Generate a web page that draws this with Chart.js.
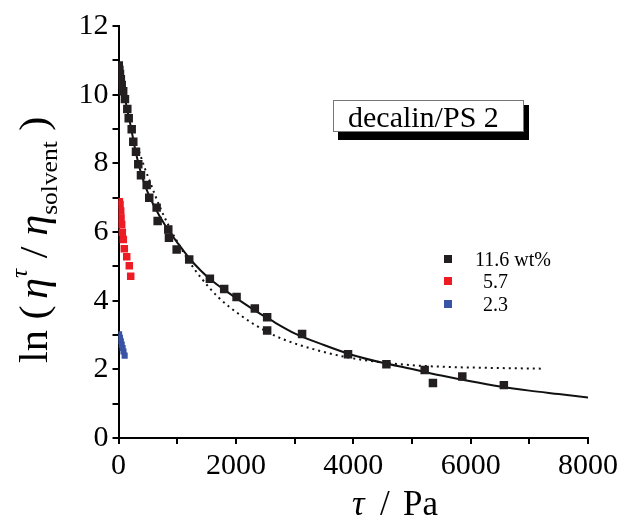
<!DOCTYPE html>
<html>
<head>
<meta charset="utf-8">
<script src="https://cdn.jsdelivr.net/npm/chart.js@4"></script>
<style>
  html, body { margin: 0; padding: 0; background: #fff; }
  #wrap { width: 622px; height: 519px; position: relative; }
</style>
</head>
<body>
<div id="wrap"><canvas id="viscChart" width="622" height="519"></canvas></div>
<script>
// data (tau in Pa, ln(eta/eta_solvent))
const blackX = [5, 15, 25, 40, 55, 80, 110, 150, 174, 225, 252, 298, 337, 383, 480, 524, 650, 667, 848, 860, 991, 1205, 1557, 1801, 2012, 2323, 2533, 2533, 3128, 3911, 4565, 5217, 5358, 5858, 6566];
const blackY = [10.85, 10.72, 10.6, 10.45, 10.28, 10.1, 9.87, 9.58, 9.31, 8.99, 8.63, 8.34, 7.97, 7.65, 7.37, 7.0, 6.71, 6.32, 6.07, 5.83, 5.49, 5.2, 4.64, 4.34, 4.11, 3.77, 3.52, 3.13, 3.03, 2.44, 2.15, 1.98, 1.6, 1.79, 1.54];

const redX = [15, 26, 37, 43, 54, 65, 82, 99, 140, 184, 208];
const redY = [6.88, 6.8, 6.61, 6.41, 6.22, 5.99, 5.78, 5.51, 5.28, 5.02, 4.71];

const blueX = [10, 25, 40, 55, 70, 85, 105];
const blueY = [3.02, 2.92, 2.82, 2.72, 2.62, 2.52, 2.4];

// fitted curves
const solidX = [0, 50, 100, 150, 200, 300, 400, 500, 600, 800, 1000, 1200, 1400, 1600, 1800, 2000, 2300, 2600, 3000, 3500, 4000, 4500, 5000, 5500, 6000, 6500, 7000, 7500, 8000];
const solidY = [10.95, 10.45, 9.98, 9.55, 9.15, 8.28, 7.62, 7.15, 6.78, 6.18, 5.7, 5.25, 4.88, 4.57, 4.32, 4.08, 3.74, 3.43, 3.05, 2.71, 2.41, 2.19, 2.01, 1.82, 1.65, 1.5, 1.38, 1.28, 1.18];

const dotX = [350, 450, 550, 700, 850, 1000, 1200, 1400, 1700, 2100, 2500, 2800, 3400, 3900, 4500, 5000, 5600, 6400, 7200];
const dotY = [8.35, 7.85, 7.4, 6.75, 6.2, 5.72, 5.15, 4.68, 4.1, 3.55, 3.12, 2.88, 2.55, 2.35, 2.2, 2.12, 2.07, 2.04, 2.02];

const legendLabels = ["11.6 wt%", "5.7", "2.3"];
const seriesColors = ["#231f20", "#ed1c24", "#3953a4"];

const serif = "'Liberation Serif', 'Times New Roman', serif";

function pts(xs, ys) {
    return xs.map((x, i) => ({ x: x, y: ys[i] }));
}

// titles, legend and label box drawn by hand
const extrasPlugin = {
    id: 'extras',
    afterDraw(chart) {
        const c = chart.ctx;
        c.save();
        c.fillStyle = '#000';
        c.textBaseline = 'alphabetic';

        // y title: ln ( eta^tau / eta_solvent )
        c.save();
        c.translate(47, 363);
        c.rotate(-Math.PI / 2);
        c.scale(1.06, 1);
        const big = "40px " + serif;
        const bigI = "italic 40px " + serif;
        const small = "24px " + serif;
        const smallI = "italic 24px " + serif;
        let pos = 0;
        const put = (t, f, dy) => {
            c.font = f;
            c.fillText(t, pos, dy || 0);
            pos += c.measureText(t).width;
        };
        put("ln (", big);
        pos += 6;
        put("\u03b7", bigI);
        put("\u03c4", smallI, -20);
        put(" / ", big);
        put("\u03b7", bigI);
        put("solvent", small, 10);
        put(" )", big);
        c.restore();

        // x title
        c.font = "italic 35px " + serif;
        c.fillText("\u03c4", 352, 515);
        c.font = "35px " + serif;
        c.fillText("/", 380, 515);
        c.fillText("Pa", 403, 515);

        // legend
        const ly = [259, 281, 304];
        const lx = [475, 483, 483];
        c.font = "20px " + serif;
        for (let i = 0; i < 3; i++) {
            c.fillStyle = seriesColors[i];
            c.fillRect(444, ly[i] - 4, 8, 8);
            c.fillStyle = '#000';
            c.fillText(legendLabels[i], lx[i], ly[i] + 7);
        }

        // label box with shadow
        c.fillStyle = '#000';
        c.fillRect(338, 105, 191, 35);
        c.fillStyle = '#fff';
        c.fillRect(333, 100, 191, 32);
        c.strokeStyle = '#777';
        c.lineWidth = 1;
        c.strokeRect(333.5, 100.5, 190, 31);
        c.fillStyle = '#000';
        c.font = "30px " + serif;
        c.fillText("decalin/PS 2", 348, 127);

        c.restore();
    }
};

const ctx = document.getElementById('viscChart').getContext('2d');

const chart = new Chart(ctx, {
    type: 'scatter',
    data: {
        datasets: [
            {
                label: legendLabels[0],
                data: pts(blackX, blackY),
                pointStyle: 'rect',
                pointRadius: 6,
                backgroundColor: seriesColors[0],
                borderWidth: 0,
                order: 0
            },
            {
                label: legendLabels[1],
                data: pts(redX, redY),
                pointStyle: 'rect',
                pointRadius: 5.3,
                backgroundColor: seriesColors[1],
                borderWidth: 0,
                order: 0
            },
            {
                label: legendLabels[2],
                data: pts(blueX, blueY),
                pointStyle: 'rect',
                pointRadius: 4.3,
                backgroundColor: seriesColors[2],
                borderWidth: 0,
                order: 0
            },
            {
                label: 'fit',
                data: pts(solidX, solidY),
                showLine: true,
                pointRadius: 0,
                borderColor: '#111',
                borderWidth: 2,
                cubicInterpolationMode: 'monotone',
                order: 1
            },
            {
                label: 'model',
                data: pts(dotX, dotY),
                showLine: true,
                pointRadius: 0,
                borderColor: '#111',
                borderWidth: 2,
                borderDash: [2, 4],
                cubicInterpolationMode: 'monotone',
                order: 1
            }
        ]
    },
    options: {
        responsive: false,
        animation: false,
        layout: { padding: { top: 26, right: 33, left: 0, bottom: 0 } },
        plugins: {
            legend: { display: false },
            tooltip: { enabled: false }
        },
        scales: {
            x: {
                type: 'linear',
                min: 0,
                max: 8000,
                border: { display: true, color: '#000', width: 2 },
                grid: { drawOnChartArea: false, drawTicks: true, tickLength: 6, color: '#000', lineWidth: 2 },
                ticks: {
                    stepSize: 1000,
                    maxRotation: 0,
                    autoSkip: false,
                    padding: 4,
                    color: '#000',
                    font: { family: serif, size: 30 },
                    callback: v => (v % 2000 === 0 ? v : '')
                },
                afterFit: s => { s.height = 81; }
            },
            y: {
                type: 'linear',
                min: 0,
                max: 12,
                border: { display: true, color: '#000', width: 2 },
                grid: { drawOnChartArea: false, drawTicks: true, tickLength: 6, color: '#000', lineWidth: 2 },
                ticks: {
                    stepSize: 1,
                    autoSkip: false,
                    padding: 4,
                    color: '#000',
                    font: { family: serif, size: 30 },
                    callback: v => (v % 2 === 0 ? v : '')
                },
                afterFit: s => { s.width = 118.5; }
            }
        }
    },
    plugins: [extrasPlugin]
});
</script>
</body>
</html>
